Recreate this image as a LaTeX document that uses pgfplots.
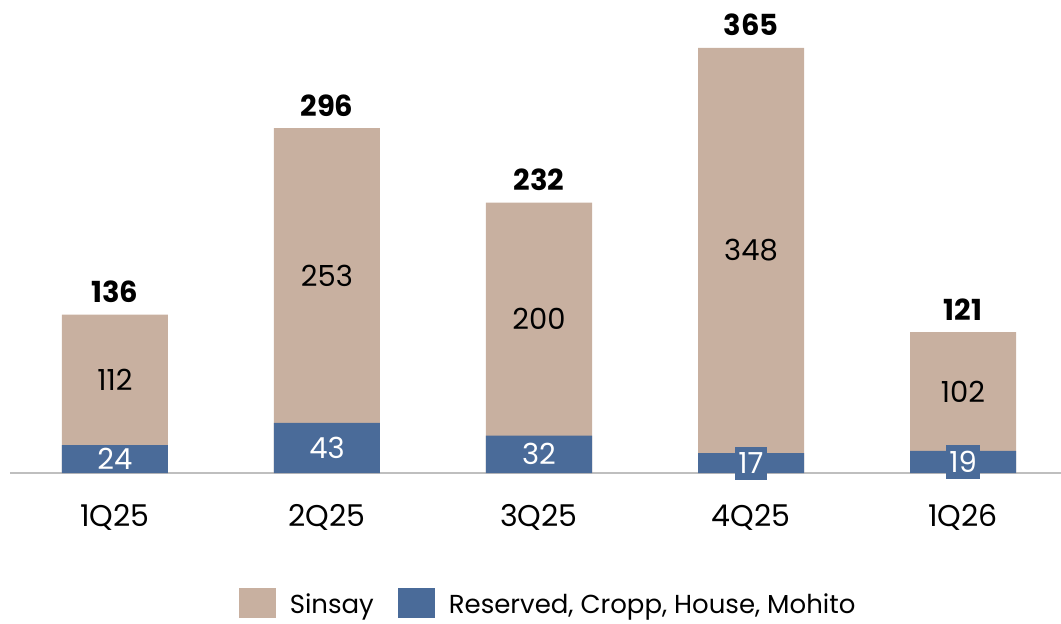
\documentclass[border=0pt]{standalone}
\usepackage{fontspec}
\setmainfont{Poppins}
\usepackage{pgfplots}
\usepackage{pgfplotstable}
\pgfplotsset{compat=1.18}
\definecolor{beige}{RGB}{200,176,160}
\definecolor{navy}{RGB}{74,107,153}
\pgfplotstableread{
x res sin tot
0 24 112 136
1 43 253 296
2 32 200 232
3 17 348 365
4 19 102 121
}\data
\begin{document}
\begin{tikzpicture}
\path[use as bounding box] (-10pt,-151pt) rectangle (1051pt,473pt);
\begin{axis}[
  at={(0,0)}, anchor=south west,
  scale only axis, width=1051pt, height=473pt,
  xmin=-0.495, xmax=4.462, ymin=0, ymax=406,
  clip=false,
  axis x line*=bottom, axis y line=none,
  x axis line style={draw=black!25, line width=2pt, -},
  xtick={0,1,2,3,4}, xticklabels={1Q25,2Q25,3Q25,4Q25,1Q26},
  major tick length=0pt,
  xticklabel style={anchor=center, yshift=-42pt, text depth=0pt, font=\fontsize{30}{30}\selectfont},
  legend columns=2,
  legend style={draw=none, at={(0.512,-0.274)}, anchor=center, font=\fontsize{26}{26}\selectfont,
     /tikz/every odd column/.append style={column sep=12pt},
     /tikz/every even column/.append style={column sep=22pt}},
  legend image code/.code={\fill[#1] (0pt,-13pt) rectangle (37pt,17pt);},
]
\addplot[ybar, bar width=0.5, bar shift=0, fill=beige, draw=none] table[x=x, y=tot]{\data};
\addlegendentry{Sinsay}
\addplot[ybar, bar width=0.5, bar shift=0, fill=navy, draw=none] table[x=x, y=res]{\data};
\addlegendentry{Reserved, Cropp, House, Mohito}
% Sinsay labels
\addplot[forget plot, draw=none, mark=none, nodes near coords, point meta=explicit symbolic,
  every node near coord/.style={anchor=center, font=\fontsize{29}{29}\selectfont, text=black}]
  table[x=x, y expr=\thisrow{res}+\thisrow{sin}/2, meta=sin]{\data};
% Reserved labels
\addplot[forget plot, draw=none, mark=none, nodes near coords, point meta=explicit symbolic,
  restrict x to domain=0:2.5,
  every node near coord/.style={anchor=center, font=\fontsize{29}{29}\selectfont, text=white}]
  table[x=x, y expr=\thisrow{res}/2, meta=res]{\data};
\addplot[forget plot, draw=none, mark=none, nodes near coords, point meta=explicit symbolic,
  restrict x to domain=2.5:4.5,
  every node near coord/.style={anchor=center, font=\fontsize{29}{29}\selectfont, text=white, fill=navy, inner xsep=3pt, inner ysep=6pt}]
  table[x=x, y expr=\thisrow{res}/2, meta=res]{\data};
% Totals
\addplot[forget plot, draw=none, mark=none, nodes near coords, point meta=explicit symbolic,
  every node near coord/.style={anchor=base, yshift=12pt, font=\fontsize{29}{29}\selectfont\bfseries, text=black}]
  table[x=x, y=tot, meta=tot]{\data};
\end{axis}
\end{tikzpicture}
\end{document}
